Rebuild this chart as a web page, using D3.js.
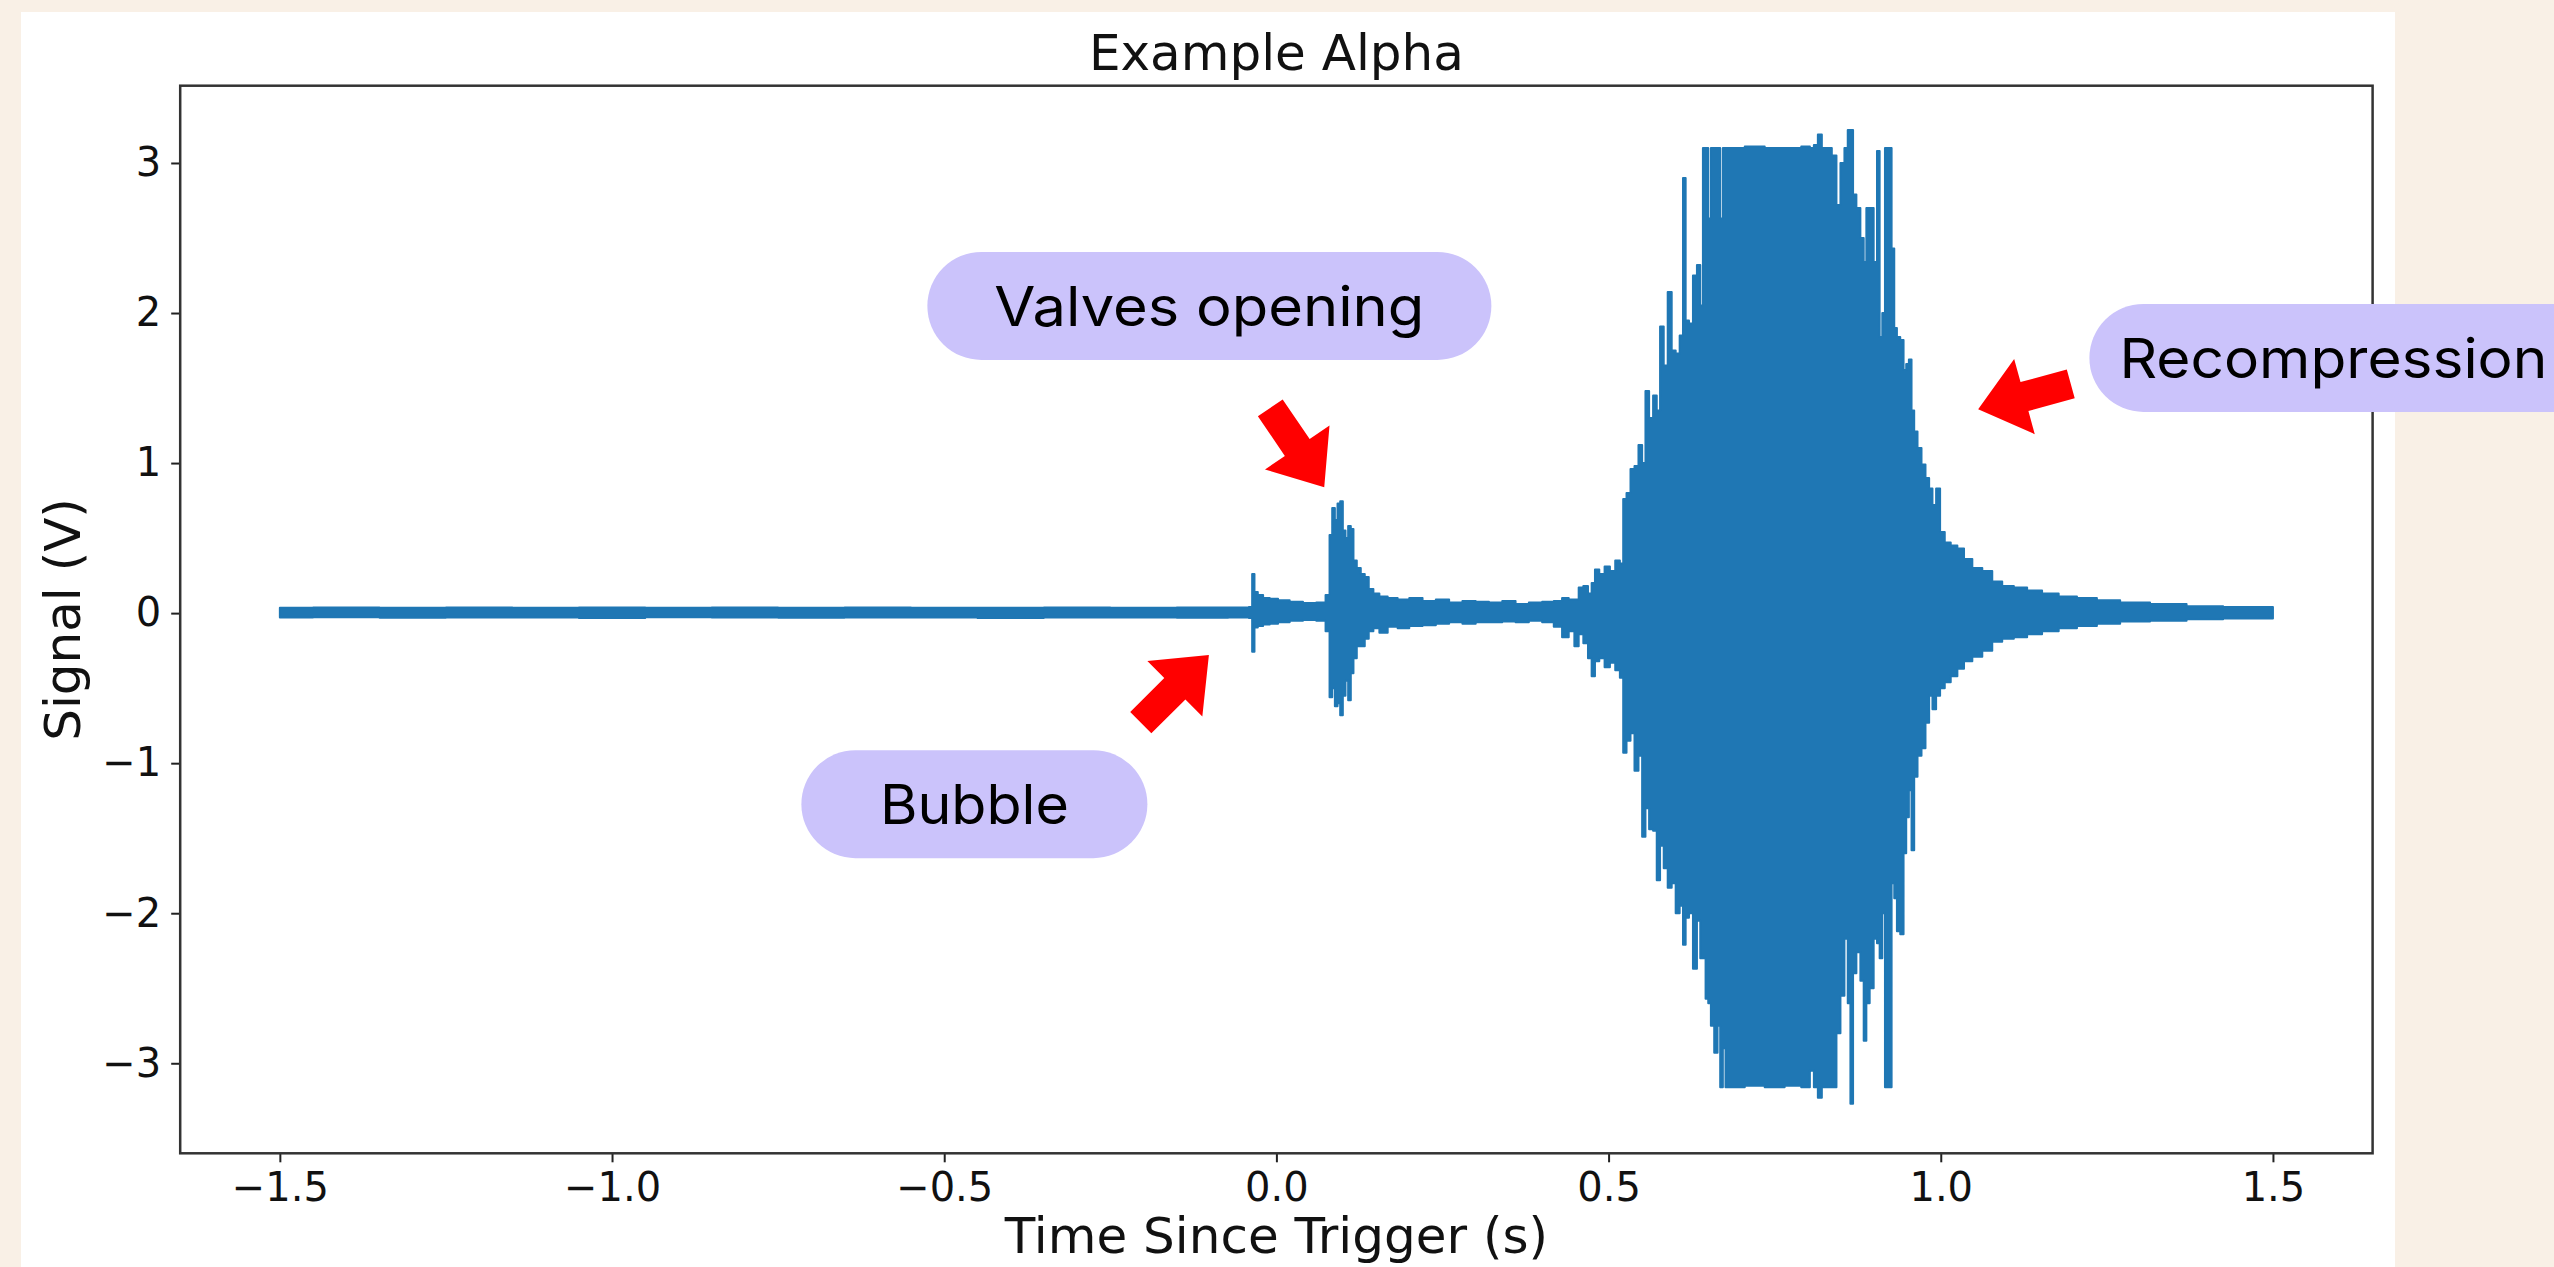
<!DOCTYPE html>
<html lang='en'>
<head>
<meta charset='utf-8'>
<title>Example Alpha</title>
<script src='https://cdn.jsdelivr.net/npm/d3@7'></script>
<style>
	html, body { margin: 0; padding: 0; background: #f9f0e6; }
	svg { display: block; }
</style>
</head>
<body>
<script>
// signal envelope: time (s), upper and lower edge (V)
var time_s = [
	-1.50, -1.40, -1.30, -1.20, -1.10, -1.00, -0.90, -0.80, -0.70, -0.60, -0.50, -0.40, -0.30, -0.20, -0.10, -0.045,
	-0.038, -0.035, -0.031, -0.025, -0.015, -0.005, 0.010, 0.030, 0.050, 0.070, 0.078,
	0.082, 0.086, 0.090, 0.094, 0.098, 0.102, 0.106, 0.110, 0.114, 0.118, 0.124, 0.130, 0.136, 0.142, 0.150,
	0.160, 0.175, 0.190, 0.210, 0.230, 0.250, 0.270, 0.290, 0.310, 0.330, 0.350, 0.370, 0.390, 0.410,
	0.425, 0.435, 0.445, 0.452, 0.458, 0.466, 0.472, 0.477, 0.482, 0.490, 0.498, 0.506, 0.514, 0.520,
	0.524, 0.530, 0.536, 0.542, 0.548, 0.553, 0.558, 0.564, 0.570, 0.575, 0.580, 0.586, 0.592, 0.598,
	0.604, 0.610, 0.614, 0.618, 0.624, 0.630, 0.636, 0.640, 0.644, 0.648, 0.652, 0.656, 0.662, 0.666,
	0.670, 0.674, 0.678, 0.690, 0.720, 0.750, 0.780, 0.800, 0.806, 0.812, 0.818, 0.824, 0.832, 0.840,
	0.846, 0.852, 0.858, 0.862, 0.866, 0.870, 0.876, 0.882, 0.886, 0.890, 0.896, 0.902, 0.906, 0.910,
	0.914, 0.918, 0.924, 0.928, 0.932, 0.936, 0.942, 0.946, 0.950, 0.954, 0.958, 0.962, 0.968, 0.974,
	0.980, 0.985, 0.990, 0.996, 1.002, 1.010, 1.020, 1.030, 1.040, 1.055, 1.070, 1.085, 1.100, 1.120,
	1.140, 1.165, 1.190, 1.220, 1.250, 1.290, 1.340, 1.400, 1.450, 1.500
];
var upper_v = [
	0.036, 0.038, 0.035, 0.037, 0.036, 0.038, 0.035, 0.037, 0.036, 0.038, 0.036, 0.035, 0.037, 0.036, 0.038, 0.037,
	0.040, 0.26, 0.14, 0.12, 0.10, 0.095, 0.085, 0.075, 0.068, 0.07, 0.12,
	0.52, 0.70, 0.62, 0.73, 0.745, 0.55, 0.50, 0.58, 0.56, 0.35, 0.30, 0.26, 0.24, 0.16, 0.13,
	0.11, 0.10, 0.09, 0.10, 0.08, 0.09, 0.07, 0.08, 0.075, 0.07, 0.08, 0.06, 0.07, 0.075,
	0.08, 0.10, 0.09, 0.09, 0.17, 0.18, 0.13, 0.20, 0.29, 0.26, 0.31, 0.28, 0.35, 0.33,
	0.76, 0.80, 0.96, 0.98, 1.12, 1.00, 1.48, 1.30, 1.45, 1.35, 1.91, 1.65, 2.14, 1.75,
	1.73, 1.85, 2.90, 1.95, 1.93, 2.25, 2.32, 2.05, 3.10, 3.10, 2.63, 3.10, 3.10, 3.10,
	2.63, 3.10, 3.10, 3.10, 3.11, 3.10, 3.10, 3.11, 3.10, 3.12, 3.19, 3.10, 3.10, 3.05,
	2.72, 3.00, 3.10, 3.22, 3.22, 2.79, 2.70, 2.50, 2.34, 2.70, 2.70, 2.34, 3.08, 1.84,
	2.00, 3.10, 3.10, 2.43, 1.90, 1.84, 1.82, 1.62, 1.66, 1.69, 1.35, 1.21, 1.10, 0.99,
	0.90, 0.83, 0.72, 0.83, 0.54, 0.47, 0.45, 0.43, 0.36, 0.30, 0.28, 0.21, 0.18, 0.17,
	0.15, 0.13, 0.11, 0.10, 0.086, 0.07, 0.06, 0.045, 0.04, 0.04
];
var lower_v = [
	-0.030, -0.028, -0.031, -0.029, -0.030, -0.032, -0.028, -0.030, -0.031, -0.029, -0.030, -0.032, -0.029, -0.030, -0.031, -0.030,
	-0.032, -0.257, -0.095, -0.085, -0.075, -0.07, -0.06, -0.05, -0.045, -0.05, -0.12,
	-0.56, -0.50, -0.62, -0.60, -0.68, -0.55, -0.45, -0.58, -0.40, -0.30, -0.22, -0.22, -0.17, -0.12, -0.10,
	-0.13, -0.09, -0.10, -0.085, -0.08, -0.07, -0.06, -0.07, -0.06, -0.06, -0.055, -0.06, -0.05, -0.06,
	-0.09, -0.16, -0.12, -0.22, -0.14, -0.20, -0.30, -0.42, -0.32, -0.30, -0.36, -0.33, -0.38, -0.43,
	-0.93, -0.85, -0.80, -1.05, -0.95, -1.49, -1.30, -1.44, -1.45, -1.78, -1.55, -1.70, -1.83, -1.80,
	-2.00, -1.95, -2.21, -2.03, -2.00, -2.37, -2.05, -2.30, -2.30, -2.57, -2.60, -2.75, -2.93, -2.75,
	-3.16, -2.90, -3.16, -3.16, -3.15, -3.16, -3.15, -3.16, -3.05, -3.16, -3.23, -3.16, -3.16, -3.16,
	-2.80, -2.55, -2.17, -2.60, -3.27, -2.40, -2.26, -2.45, -2.85, -2.60, -2.50, -2.17, -2.20, -2.30,
	-2.00, -3.16, -3.16, -1.80, -1.90, -2.12, -2.14, -1.60, -1.36, -1.18, -1.58, -1.09, -0.95, -0.90,
	-0.73, -0.55, -0.64, -0.55, -0.50, -0.46, -0.42, -0.37, -0.32, -0.29, -0.25, -0.19, -0.17, -0.16,
	-0.14, -0.12, -0.10, -0.085, -0.07, -0.055, -0.05, -0.04, -0.035, -0.035
];

var x_ticks = [-1.5, -1.0, -0.5, 0.0, 0.5, 1.0, 1.5];
var y_ticks = [-3, -2, -1, 0, 1, 2, 3];

// call-outs: label, bubble anchor (data units), arrow tip (data units), arrow heading (deg)
var note_text = ['Valves opening', 'Bubble', 'Recompression'];
var note_at = [[-0.1009, 2.047], [-0.4546, -1.273], [1.305, 1.701]];
var arrow_tip = [[0.072, 0.839], [-0.1016, -0.2786], [1.0563, 1.359]];
var arrow_deg = [55.8, -44.8, 164.7];

{
	var width = 2554, height = 1267;
	var min_x = 180.2, max_x = 2372.6, min_y = 1153.3, max_y = 85.7;

	var svg = d3.select('body').append('svg').attr('width', width).attr('height', height)

	svg.append('rect').attr('width', width).attr('height', height).attr('fill', '#f9f0e6')
	svg.append('rect').attr('x', 21).attr('y', 12).attr('width', 2374).attr('height', height - 12).attr('fill', '#ffffff')

	var sx = d3.scaleLinear().domain([-1.65, 1.65]).range([min_x, max_x])
	var sy = d3.scaleLinear().domain([-3.6, 3.515]).range([min_y, max_y])

	var rows = time_s.map((t, i) => ({t: t, hi: upper_v[i], lo: lower_v[i]}))
	var area = d3.area().curve(d3.curveStep)
		.x(d => sx(d.t)).y0(d => sy(d.lo)).y1(d => sy(d.hi))
	svg.append('path').datum(rows)
		.attr('d', area)
		.attr('fill', '#1f77b4')
		.attr('stroke', '#1f77b4')
		.attr('stroke-width', 2)
		.attr('stroke-linejoin', 'round')

	// bottom axis
	var xa = svg.append('g')
		.attr('transform', 'translate(0,' + min_y + ')')
		.call(d3.axisBottom(sx).tickValues(x_ticks).tickFormat(d3.format('.1f')).tickSize(9).tickPadding(10).tickSizeOuter(0))
	// left axis
	var ya = svg.append('g')
		.attr('transform', 'translate(' + min_x + ',0)')
		.call(d3.axisLeft(sy).tickValues(y_ticks).tickFormat(d3.format('d')).tickSize(9).tickPadding(10).tickSizeOuter(0))
	for (var ax of [xa, ya]) {
		ax.select('.domain').remove()
		ax.selectAll('line').attr('stroke', '#222').attr('stroke-width', 2)
		ax.selectAll('text').attr('fill', '#111').style('font-family', 'DejaVu Sans').style('font-size', '40px')
	}

	// frame
	svg.append('rect')
		.attr('x', min_x).attr('y', max_y)
		.attr('width', max_x - min_x).attr('height', min_y - max_y)
		.attr('fill', 'none').attr('stroke', '#333').attr('stroke-width', 2.5)

	var label_font = {'font-family': 'DejaVu Sans', 'font-size': '50px', 'fill': '#111'}
	var t1 = svg.append('text').attr('x', (min_x + max_x) / 2).attr('y', 70).attr('text-anchor', 'middle').text('Example Alpha')
	var t2 = svg.append('text').attr('x', (min_x + max_x) / 2).attr('y', 1253).attr('text-anchor', 'middle').text('Time Since Trigger (s)')
	var t3 = svg.append('text').attr('transform', 'translate(80,' + ((min_y + max_y) / 2) + ') rotate(-90)').attr('text-anchor', 'middle').text('Signal (V)')
	for (var t of [t1, t2, t3])
		for (var k in label_font) t.style(k, label_font[k])

	// red block arrows
	var L = 96, hl = 48, hw = 78, sw = 30
	var arrow_pts = [[0, 0], [-hl, hw / 2], [-hl, sw / 2], [-L, sw / 2], [-L, -sw / 2], [-hl, -sw / 2], [-hl, -hw / 2]]
	svg.selectAll('polygon.arrow').data(arrow_tip).enter().append('polygon')
		.attr('class', 'arrow')
		.attr('points', arrow_pts.map(p => p.join(',')).join(' '))
		.attr('transform', (d, i) => 'translate(' + sx(d[0]) + ',' + sy(d[1]) + ') rotate(' + arrow_deg[i] + ')')
		.attr('fill', '#ff0000')

	// lavender call-out bubbles
	var bubble_w = [564, 346, 520], bubble_h = 108
	var text_w = [430, 189, 428]
	var notes = svg.selectAll('g.note').data(note_text).enter().append('g')
		.attr('class', 'note')
		.attr('transform', (d, i) => 'translate(' + sx(note_at[i][0]) + ',' + sy(note_at[i][1]) + ')')
	notes.append('rect')
		.attr('x', (d, i) => i == 2 ? -bubble_h / 2 : -bubble_w[i] / 2)
		.attr('y', -bubble_h / 2)
		.attr('width', (d, i) => bubble_w[i]).attr('height', bubble_h)
		.attr('rx', bubble_h / 2)
		.attr('fill', '#cbc3fb')
	notes.append('text')
		.attr('x', (d, i) => i == 2 ? -bubble_h / 2 + 30 : 0)
		.attr('y', 20)
		.attr('text-anchor', (d, i) => i == 2 ? 'start' : 'middle')
		.attr('textLength', (d, i) => text_w[i])
		.attr('lengthAdjust', 'spacingAndGlyphs')
		.style('font-family', 'Inter')
		.style('font-size', '55px')
		.attr('fill', '#000')
		.text(d => d)
}
</script>
</body>
</html>
